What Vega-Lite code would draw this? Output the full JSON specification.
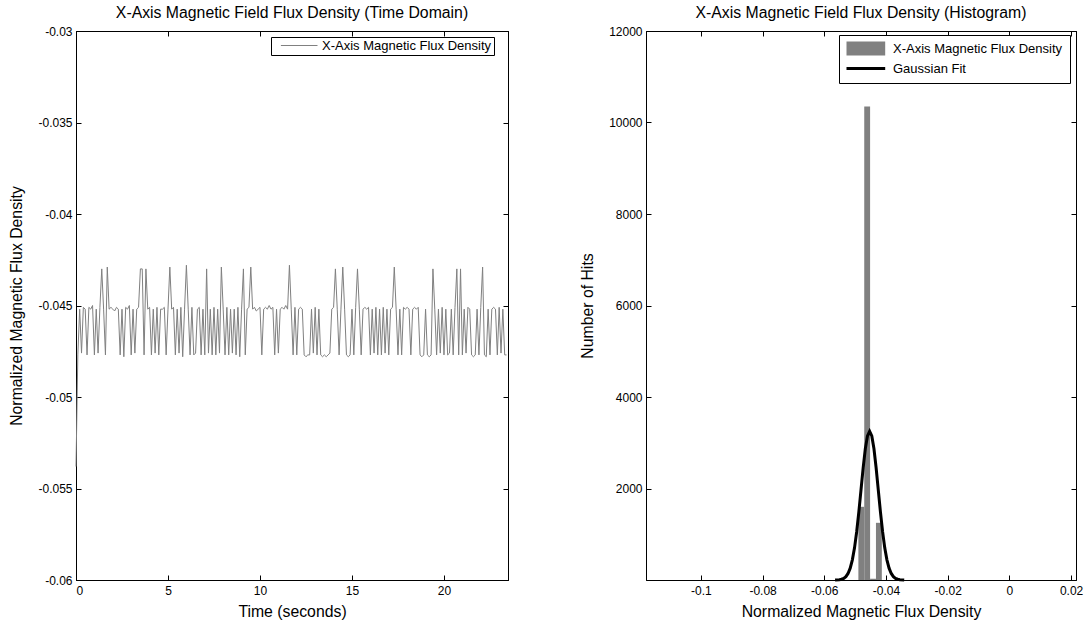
{
  "$schema": "https://vega.github.io/schema/vega-lite/v6.json",
  "padding": {"left": 8, "top": 4, "right": 0, "bottom": 0},
  "bounds": "flush",
  "spacing": 138,
  "datasets": {
    "ts": [
      {"t":0.0,"v":-0.0538},{"t":0.1,"v":-0.0477},{"t":0.2,"v":-0.0452},{"t":0.3,"v":-0.0476},{"t":0.4,"v":-0.0451},{"t":0.5,"v":-0.0452},{"t":0.6,"v":-0.0477},{"t":0.7,"v":-0.0451},{"t":0.8,"v":-0.0452},{"t":0.9,"v":-0.0450},
      {"t":1.0,"v":-0.0477},{"t":1.1,"v":-0.0452},{"t":1.2,"v":-0.0476},{"t":1.3,"v":-0.0451},{"t":1.4,"v":-0.0430},{"t":1.5,"v":-0.0452},{"t":1.6,"v":-0.0477},{"t":1.7,"v":-0.0429},{"t":1.8,"v":-0.0452},{"t":1.9,"v":-0.0451},
      {"t":2.0,"v":-0.0452},{"t":2.1,"v":-0.0453},{"t":2.2,"v":-0.0451},{"t":2.3,"v":-0.0452},{"t":2.4,"v":-0.0477},{"t":2.5,"v":-0.0452},{"t":2.6,"v":-0.0478},{"t":2.7,"v":-0.0451},{"t":2.8,"v":-0.0452},{"t":2.9,"v":-0.0450},
      {"t":3.0,"v":-0.0477},{"t":3.1,"v":-0.0452},{"t":3.2,"v":-0.0476},{"t":3.3,"v":-0.0452},{"t":3.4,"v":-0.0451},{"t":3.5,"v":-0.0430},{"t":3.6,"v":-0.0430},{"t":3.7,"v":-0.0477},{"t":3.8,"v":-0.0430},{"t":3.9,"v":-0.0452},
      {"t":4.0,"v":-0.0451},{"t":4.1,"v":-0.0477},{"t":4.2,"v":-0.0452},{"t":4.3,"v":-0.0476},{"t":4.4,"v":-0.0451},{"t":4.5,"v":-0.0477},{"t":4.6,"v":-0.0452},{"t":4.7,"v":-0.0452},{"t":4.8,"v":-0.0451},{"t":4.9,"v":-0.0477},
      {"t":5.0,"v":-0.0452},{"t":5.1,"v":-0.0429},{"t":5.2,"v":-0.0452},{"t":5.3,"v":-0.0451},{"t":5.4,"v":-0.0477},{"t":5.5,"v":-0.0452},{"t":5.6,"v":-0.0476},{"t":5.7,"v":-0.0451},{"t":5.8,"v":-0.0478},{"t":5.9,"v":-0.0452},
      {"t":6.0,"v":-0.0428},{"t":6.1,"v":-0.0452},{"t":6.2,"v":-0.0477},{"t":6.3,"v":-0.0451},{"t":6.4,"v":-0.0477},{"t":6.5,"v":-0.0476},{"t":6.6,"v":-0.0452},{"t":6.7,"v":-0.0451},{"t":6.8,"v":-0.0477},{"t":6.9,"v":-0.0452},
      {"t":7.0,"v":-0.0477},{"t":7.1,"v":-0.0430},{"t":7.2,"v":-0.0476},{"t":7.3,"v":-0.0452},{"t":7.4,"v":-0.0477},{"t":7.5,"v":-0.0451},{"t":7.6,"v":-0.0477},{"t":7.7,"v":-0.0452},{"t":7.8,"v":-0.0476},{"t":7.9,"v":-0.0429},
      {"t":8.0,"v":-0.0452},{"t":8.1,"v":-0.0477},{"t":8.2,"v":-0.0451},{"t":8.3,"v":-0.0477},{"t":8.4,"v":-0.0452},{"t":8.5,"v":-0.0476},{"t":8.6,"v":-0.0452},{"t":8.7,"v":-0.0477},{"t":8.8,"v":-0.0451},{"t":8.9,"v":-0.0478},
      {"t":9.0,"v":-0.0452},{"t":9.1,"v":-0.0430},{"t":9.2,"v":-0.0477},{"t":9.3,"v":-0.0452},{"t":9.4,"v":-0.0451},{"t":9.5,"v":-0.0429},{"t":9.6,"v":-0.0452},{"t":9.7,"v":-0.0451},{"t":9.8,"v":-0.0453},{"t":9.9,"v":-0.0452},
      {"t":10.0,"v":-0.0451},{"t":10.1,"v":-0.0477},{"t":10.2,"v":-0.0452},{"t":10.3,"v":-0.0451},{"t":10.4,"v":-0.0452},{"t":10.5,"v":-0.0450},{"t":10.6,"v":-0.0452},{"t":10.7,"v":-0.0451},{"t":10.8,"v":-0.0477},{"t":10.9,"v":-0.0452},
      {"t":11.0,"v":-0.0476},{"t":11.1,"v":-0.0452},{"t":11.2,"v":-0.0451},{"t":11.3,"v":-0.0452},{"t":11.4,"v":-0.0450},{"t":11.5,"v":-0.0452},{"t":11.6,"v":-0.0428},{"t":11.7,"v":-0.0452},{"t":11.8,"v":-0.0477},{"t":11.9,"v":-0.0451},
      {"t":12.0,"v":-0.0477},{"t":12.1,"v":-0.0452},{"t":12.2,"v":-0.0451},{"t":12.3,"v":-0.0452},{"t":12.4,"v":-0.0477},{"t":12.5,"v":-0.0478},{"t":12.6,"v":-0.0477},{"t":12.7,"v":-0.0477},{"t":12.8,"v":-0.0452},{"t":12.9,"v":-0.0476},
      {"t":13.0,"v":-0.0451},{"t":13.1,"v":-0.0477},{"t":13.2,"v":-0.0452},{"t":13.3,"v":-0.0477},{"t":13.4,"v":-0.0478},{"t":13.5,"v":-0.0477},{"t":13.6,"v":-0.0478},{"t":13.7,"v":-0.0477},{"t":13.8,"v":-0.0476},{"t":13.9,"v":-0.0452},
      {"t":14.0,"v":-0.0451},{"t":14.1,"v":-0.0430},{"t":14.2,"v":-0.0452},{"t":14.3,"v":-0.0477},{"t":14.4,"v":-0.0452},{"t":14.5,"v":-0.0429},{"t":14.6,"v":-0.0452},{"t":14.7,"v":-0.0477},{"t":14.8,"v":-0.0478},{"t":14.9,"v":-0.0477},
      {"t":15.0,"v":-0.0452},{"t":15.1,"v":-0.0477},{"t":15.2,"v":-0.0451},{"t":15.3,"v":-0.0430},{"t":15.4,"v":-0.0452},{"t":15.5,"v":-0.0477},{"t":15.6,"v":-0.0452},{"t":15.7,"v":-0.0451},{"t":15.8,"v":-0.0452},{"t":15.9,"v":-0.0451},
      {"t":16.0,"v":-0.0477},{"t":16.1,"v":-0.0452},{"t":16.2,"v":-0.0476},{"t":16.3,"v":-0.0451},{"t":16.4,"v":-0.0477},{"t":16.5,"v":-0.0452},{"t":16.6,"v":-0.0477},{"t":16.7,"v":-0.0451},{"t":16.8,"v":-0.0476},{"t":16.9,"v":-0.0452},
      {"t":17.0,"v":-0.0477},{"t":17.1,"v":-0.0452},{"t":17.2,"v":-0.0451},{"t":17.3,"v":-0.0429},{"t":17.4,"v":-0.0452},{"t":17.5,"v":-0.0477},{"t":17.6,"v":-0.0452},{"t":17.7,"v":-0.0477},{"t":17.8,"v":-0.0451},{"t":17.9,"v":-0.0452},
      {"t":18.0,"v":-0.0451},{"t":18.1,"v":-0.0452},{"t":18.2,"v":-0.0477},{"t":18.3,"v":-0.0452},{"t":18.4,"v":-0.0451},{"t":18.5,"v":-0.0452},{"t":18.6,"v":-0.0451},{"t":18.7,"v":-0.0477},{"t":18.8,"v":-0.0478},{"t":18.9,"v":-0.0477},
      {"t":19.0,"v":-0.0452},{"t":19.1,"v":-0.0477},{"t":19.2,"v":-0.0478},{"t":19.3,"v":-0.0477},{"t":19.4,"v":-0.0430},{"t":19.5,"v":-0.0452},{"t":19.6,"v":-0.0477},{"t":19.7,"v":-0.0452},{"t":19.8,"v":-0.0476},{"t":19.9,"v":-0.0451},
      {"t":20.0,"v":-0.0477},{"t":20.1,"v":-0.0452},{"t":20.2,"v":-0.0477},{"t":20.3,"v":-0.0476},{"t":20.4,"v":-0.0452},{"t":20.5,"v":-0.0477},{"t":20.6,"v":-0.0451},{"t":20.7,"v":-0.0430},{"t":20.8,"v":-0.0477},{"t":20.9,"v":-0.0430},
      {"t":21.0,"v":-0.0477},{"t":21.1,"v":-0.0452},{"t":21.2,"v":-0.0476},{"t":21.3,"v":-0.0451},{"t":21.4,"v":-0.0452},{"t":21.5,"v":-0.0477},{"t":21.6,"v":-0.0478},{"t":21.7,"v":-0.0477},{"t":21.8,"v":-0.0452},{"t":21.9,"v":-0.0477},
      {"t":22.0,"v":-0.0451},{"t":22.1,"v":-0.0429},{"t":22.2,"v":-0.0477},{"t":22.3,"v":-0.0478},{"t":22.4,"v":-0.0452},{"t":22.5,"v":-0.0477},{"t":22.6,"v":-0.0452},{"t":22.7,"v":-0.0451},{"t":22.8,"v":-0.0452},{"t":22.9,"v":-0.0477},
      {"t":23.0,"v":-0.0451},{"t":23.1,"v":-0.0476},{"t":23.2,"v":-0.0452},{"t":23.3,"v":-0.0477},{"t":23.4,"v":-0.0477}
    ],
    "hist": [
      {"x0":-0.04895,"x1":-0.04705,"count":1600},
      {"x0":-0.04705,"x1":-0.04515,"count":10350},
      {"x0":-0.04515,"x1":-0.04325,"count":25},
      {"x0":-0.04325,"x1":-0.04135,"count":1250}
    ],
    "fit": [
      {"x":-0.0565,"y":1},{"x":-0.0551,"y":7},{"x":-0.0544,"y":17},{"x":-0.0537,"y":36},{"x":-0.0530,"y":74},{"x":-0.0523,"y":143},{"x":-0.0516,"y":259},{"x":-0.0509,"y":440},{"x":-0.0502,"y":703},{"x":-0.0495,"y":1055},{"x":-0.0488,"y":1488},{"x":-0.0481,"y":1971},{"x":-0.0474,"y":2453},{"x":-0.0467,"y":2868},{"x":-0.0460,"y":3150},
      {"x":-0.0453,"y":3250},
      {"x":-0.0446,"y":3150},{"x":-0.0439,"y":2868},{"x":-0.0432,"y":2453},{"x":-0.0425,"y":1971},{"x":-0.0418,"y":1488},{"x":-0.0411,"y":1055},{"x":-0.0404,"y":703},{"x":-0.0397,"y":440},{"x":-0.0390,"y":259},{"x":-0.0383,"y":143},{"x":-0.0376,"y":74},{"x":-0.0369,"y":36},{"x":-0.0362,"y":17},{"x":-0.0355,"y":7},{"x":-0.0341,"y":1}
    ]
  },
  "hconcat": [
    {
      "width": 432,
      "height": 549,
      "title": {"text": "X-Axis Magnetic Field Flux Density (Time Domain)"},
      "data": {"name": "ts"},
      "layer": [
        {
          "mark": {"type": "line", "strokeWidth": 1, "interpolate": "linear"},
          "encoding": {
            "x": {"field": "t", "type": "quantitative", "scale": {"domain": [0, 23.48], "nice": false, "zero": false},
                  "axis": {"orient": "bottom", "title": "Time (seconds)", "values": [0, 5, 10, 15, 20], "labelExpr": "'' + datum.value", "labelPadding": 10, "titlePadding": 8}},
            "y": {"field": "v", "type": "quantitative", "scale": {"domain": [-0.06, -0.03], "nice": false, "zero": false},
                  "axis": {"orient": "left", "title": "Normalized Magnetic Flux Density", "values": [-0.06, -0.055, -0.05, -0.045, -0.04, -0.035, -0.03], "labelExpr": "'' + datum.value", "labelPadding": 9, "titlePadding": 13}},
            "color": {"datum": "X-Axis Magnetic Flux Density", "type": "nominal",
                      "scale": {"domain": ["X-Axis Magnetic Flux Density"], "range": ["#808080"]},
                      "legend": {"title": null, "orient": "none", "legendX": 195, "legendY": 6, "padding": 2,
                                 "symbolType": "M0.28,0H7.6", "symbolSize": 100, "symbolStrokeWidth": 1, "symbolStrokeColor": "#808080",
                                 "labelOffset": 36, "labelFontSize": 13, "labelLimit": 0}}
          }
        },
        {
          "mark": {"type": "line", "opacity": 0},
          "encoding": {
            "x": {"field": "t", "type": "quantitative", "axis": {"orient": "top", "title": null, "labels": false, "values": [0, 5, 10, 15, 20]}},
            "y": {"field": "v", "type": "quantitative", "axis": {"orient": "right", "title": null, "labels": false, "values": [-0.06, -0.055, -0.05, -0.045, -0.04, -0.035, -0.03]}}
          }
        }
      ],
      "resolve": {"axis": {"x": "independent", "y": "independent"}}
    },
    {
      "width": 430,
      "height": 549,
      "title": {"text": "X-Axis Magnetic Field Flux Density (Histogram)"},
      "layer": [
        {
          "data": {"name": "hist"},
          "mark": {"type": "rect"},
          "encoding": {
            "x": {"field": "x0", "type": "quantitative", "scale": {"domain": [-0.1178, 0.0216], "nice": false, "zero": false},
                  "axis": {"orient": "bottom", "title": "Normalized Magnetic Flux Density", "values": [-0.1, -0.08, -0.06, -0.04, -0.02, 0, 0.02], "labelExpr": "'' + datum.value", "labelPadding": 10, "titlePadding": 8}},
            "x2": {"field": "x1"},
            "y": {"field": "count", "type": "quantitative", "scale": {"domain": [0, 12000], "nice": false},
                  "axis": {"orient": "left", "title": "Number of Hits", "values": [2000, 4000, 6000, 8000, 10000, 12000], "labelExpr": "'' + datum.value", "labelPadding": 9, "titlePadding": 13}},
            "y2": {"datum": 0},
            "color": {"datum": "X-Axis Magnetic Flux Density", "type": "nominal",
                      "scale": {"domain": ["X-Axis Magnetic Flux Density", "Gaussian Fit"], "range": ["#808080", "#000000"]},
                      "legend": {"title": null, "orient": "none", "legendX": 193, "legendY": 4, "padding": 7, "rowPadding": 6,
                                 "symbolSize": 100, "labelOffset": 34, "labelFontSize": 13, "labelLimit": 0,
                                 "encode": {"symbols": {"update": {
                                   "shape": {"signal": "datum.value === 'Gaussian Fit' ? 'M-1.2,0H6.54' : 'M-1.2,-1.4H6.54V1.4H-1.2Z'"},
                                   "fill": {"signal": "datum.value === 'Gaussian Fit' ? 'transparent' : '#808080'"},
                                   "stroke": {"signal": "datum.value === 'Gaussian Fit' ? '#000000' : 'transparent'"},
                                   "strokeWidth": {"signal": "datum.value === 'Gaussian Fit' ? 3 : 0"},
                                   "opacity": {"value": 1}
                                 }}}}}
          }
        },
        {
          "data": {"name": "fit"},
          "mark": {"type": "line", "strokeWidth": 3},
          "encoding": {
            "x": {"field": "x", "type": "quantitative", "axis": null},
            "y": {"field": "y", "type": "quantitative", "axis": null},
            "color": {"datum": "Gaussian Fit", "type": "nominal"}
          }
        },
        {
          "data": {"name": "fit"},
          "mark": {"type": "line", "opacity": 0},
          "encoding": {
            "x": {"field": "x", "type": "quantitative", "axis": {"orient": "top", "title": null, "labels": false, "values": [-0.1, -0.08, -0.06, -0.04, -0.02, 0, 0.02]}},
            "y": {"field": "y", "type": "quantitative", "axis": {"orient": "right", "title": null, "labels": false, "values": [2000, 4000, 6000, 8000, 10000, 12000]}}
          }
        }
      ],
      "resolve": {"axis": {"x": "independent", "y": "independent"}}
    }
  ],
  "resolve": {"scale": {"color": "independent"}, "legend": {"color": "independent"}},
  "config": {
    "font": "Liberation Sans",
    "background": "white",
    "view": {"stroke": "black", "strokeWidth": 1},
    "axis": {"domainColor": "black", "domainWidth": 1, "tickColor": "black", "tickSize": -5, "labelPadding": 4,
             "labelColor": "black", "titleColor": "black", "labelFontSize": 12, "titleFontSize": 15.8, "titleFontWeight": "normal",
             "labelFont": "Liberation Sans", "titleFont": "Liberation Sans", "grid": false, "titlePadding": 8},
    "title": {"fontSize": 15.8, "fontWeight": "normal", "color": "black", "font": "Liberation Sans", "offset": 3},
    "legend": {"strokeColor": "black", "fillColor": "white", "labelColor": "black", "labelFont": "Liberation Sans", "cornerRadius": 0}
  }
}
